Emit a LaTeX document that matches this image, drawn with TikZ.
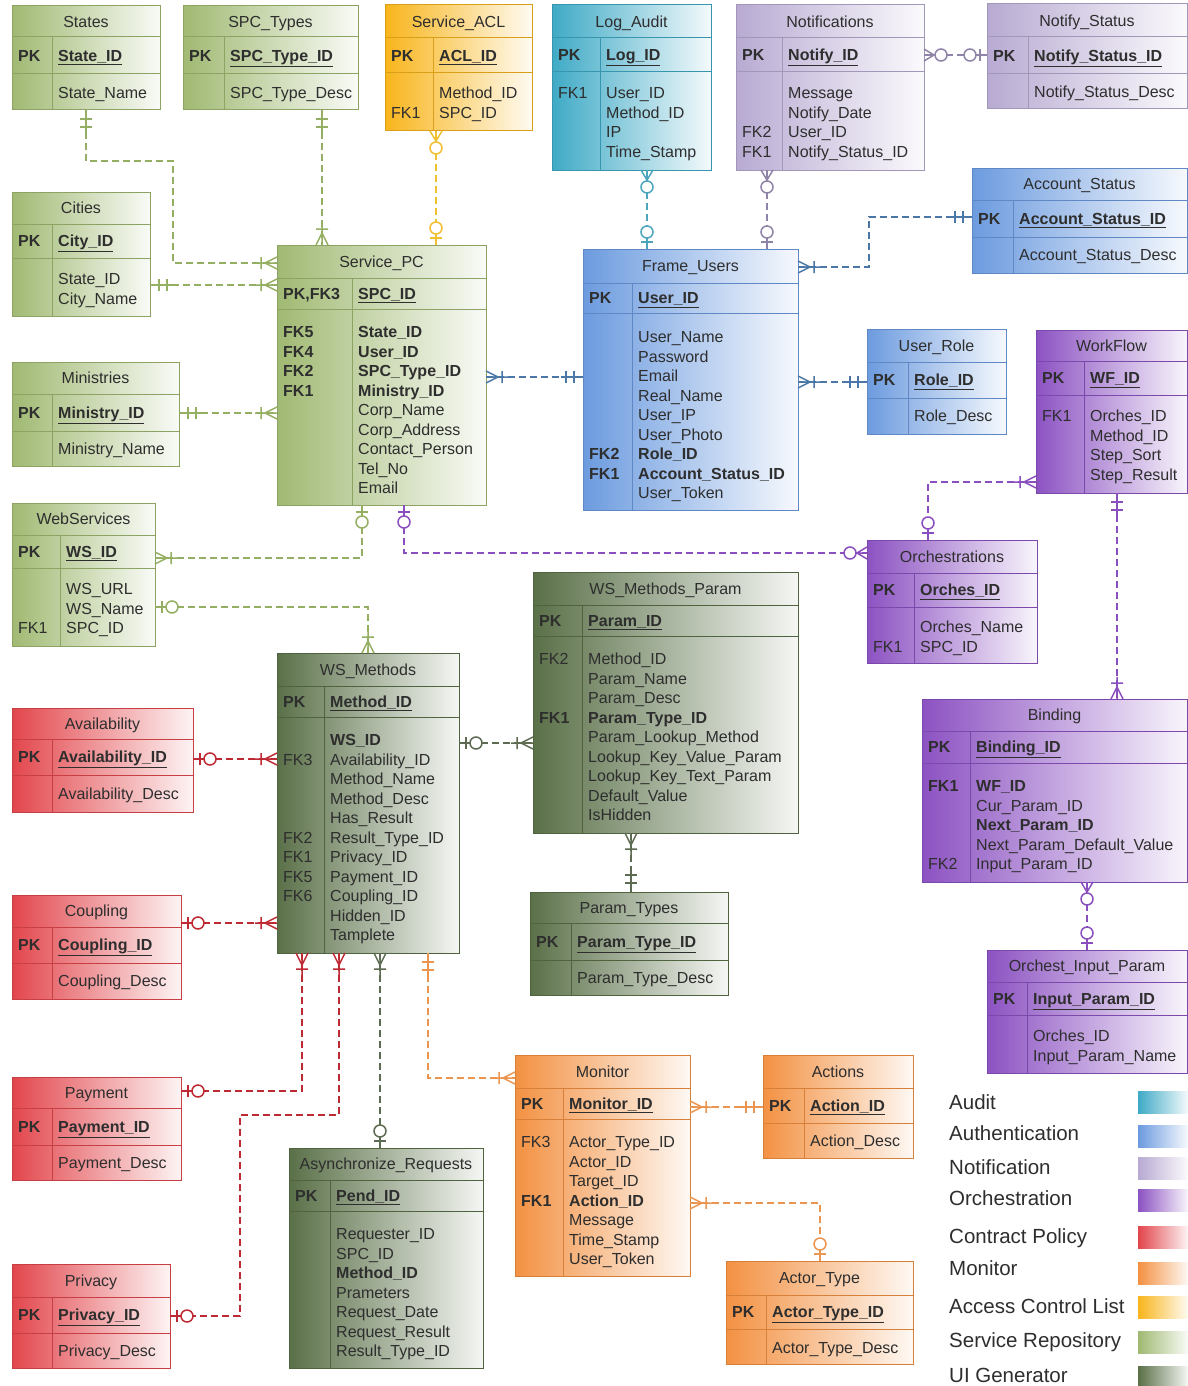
\documentclass[tikz,border=0pt]{standalone}
\usepackage{fontspec}
\setmainfont{Liberation Sans}
\usetikzlibrary{decorations.markings}

\definecolor{cSvc}{HTML}{A0B972}
\definecolor{cUI}{HTML}{5A7048}
\definecolor{cAuth}{HTML}{6C9BDF}
\definecolor{cAudit}{HTML}{3FAAC6}
\definecolor{cNotif}{HTML}{B8AAD2}
\definecolor{cOrch}{HTML}{8C52C2}
\definecolor{cCP}{HTML}{E2464C}
\definecolor{cMon}{HTML}{F39142}
\definecolor{cACL}{HTML}{F8B51C}
\definecolor{lSvc}{HTML}{94AF62}
\definecolor{lUI}{HTML}{5C6B52}
\definecolor{lAuth}{HTML}{4A77A6}
\definecolor{lAudit}{HTML}{4BA5BD}
\definecolor{lNotif}{HTML}{8F84A8}
\definecolor{lOrch}{HTML}{8A4FBF}
\definecolor{lCP}{HTML}{BE2A33}
\definecolor{lMon}{HTML}{EB9650}
\definecolor{lACL}{HTML}{EFC030}
\definecolor{txt}{HTML}{2E2E2E}

\newcommand\fld{\fontsize{16}{19.5}\selectfont}
\newcommand\lgd{\fontsize{20.5}{24}\selectfont}

% ER end markers (entity at origin, path runs toward -x)
\newcommand\mkone{\draw[solid] (0,0) -- (-22,0) (-9,-6) -- (-9,6) (-17,-6) -- (-17,6);}
\newcommand\mkzo{\draw[solid] (0,0) -- (-11,0) (-7,-6) -- (-7,6); \draw[solid,fill=white] (-17,0) circle[radius=6pt];}
\newcommand\mkmany{\draw[solid] (0,0) -- (-22,0) (0,-6) -- (-12,0) -- (0,6) (-16,-6) -- (-16,6);}
\newcommand\mkzm{\draw[solid] (0,0) -- (-11,0) (0,-6) -- (-10,0) -- (0,6); \draw[solid,fill=white] (-17,0) circle[radius=6pt];}

\tikzset{
  ebox/.style={draw=#1!88!black, line width=1pt, left color=#1, right color=#1!6,
    inner sep=0pt, outer sep=0pt, anchor=north west},
  ttl/.style={font=\fld, text=txt, inner sep=0pt, anchor=base},
  pkk/.style={font=\fld\bfseries, text=txt, inner sep=0pt, anchor=base west},
  fld/.style={font=\fld, text=txt, inner sep=0pt, anchor=north west, align=left},
  lgt/.style={font=\lgd, text=txt, inner sep=0pt, anchor=base west},
  lgsw/.style={anchor=north west, minimum width=50pt, minimum height=22pt, inner sep=0pt,
    left color=#1, right color=#1!5},
  conn/.style={line width=1.5pt, dash pattern=on 7pt off 4pt, postaction={decorate}},
  st/.style={decoration={markings, mark=at position 0 with {\begin{scope}[xscale=-1]\csname mk#1\endcsname\end{scope}}}},
  en/.style={decoration={markings, mark=at position 1 with {\csname mk#1\endcsname}}},
}

% #1 name #2 colour #3 x1 #4 y1 #5 x2 #6 y2 #7 title bottom #8 pk bottom #9 divider x
\newcommand\ent[9]{%
  \node[ebox=#2, minimum width={(#5-#3)*1pt}, minimum height={(#6-#4)*1pt}] (#1) at (#3,#4) {};
  \draw[line width=1pt, draw=#2!88!black] (#3,#7) -- (#5,#7) (#3,#8) -- (#5,#8) (#9,#7) -- (#9,#6);
  \coordinate (#1-t) at ({(#3+#5)/2},{(#4+#7)/2+5.7});
  \coordinate (#1-pk) at ({#3+6},{(#7+#8)/2+5.7});
  \coordinate (#1-pn) at ({#9+6},{(#7+#8)/2+5.7});
}
\newcommand\etext[4]{%
  \node[ttl] (#1-title) at (#1-t) {#2};
  \node[pkk] (#1-pkey) at (#1-pk) {#3};
  \node[pkk] (#1-pname) at (#1-pn) {\underline{#4}};
}
\newcommand\ebody[3]{%
  \coordinate (#1-by) at (0,{#2-8});
  \node[fld] (#1-attrs) at (#1-pn |- #1-by) {\strut #3};
}
\newcommand\ekeys[3]{%
  \coordinate (#1-ky) at (0,{#2-8});
  \node[fld] (#1-keys) at (#1-pk |- #1-ky) {\strut #3};
}
\newcommand\lgitem[5]{%
  \node[lgt] (#1) at (949,{#4+7.3}) {#2};
  \node[lgsw=#3] (#1-sw) at (1138,{#5-11}) {};
}

\begin{document}
\begin{tikzpicture}[x=1pt,y=-1pt]
\fill[white] (0,0) rectangle (1188,1386);
\useasboundingbox (0,0) rectangle (1188,1386);

% ---------- entities ----------
\ent{states}{cSvc}{12}{6}{160}{110}{37}{74}{52}
\etext{states}{States}{PK}{State\_ID}
\ebody{states}{93}{State\_Name}

\ent{spct}{cSvc}{183}{6}{358}{110}{37}{74}{224}
\etext{spct}{SPC\_Types}{PK}{SPC\_Type\_ID}
\ebody{spct}{93}{SPC\_Type\_Desc}

\ent{acl}{cACL}{385}{5}{532}{131}{38}{73}{433}
\etext{acl}{Service\_ACL}{PK}{ACL\_ID}
\ekeys{acl}{93}{\\FK1}
\ebody{acl}{93}{Method\_ID\\SPC\_ID}

\ent{log}{cAudit}{552}{5}{711}{170}{38}{72}{600}
\etext{log}{Log\_Audit}{PK}{Log\_ID}
\ekeys{log}{93}{FK1}
\ebody{log}{93}{User\_ID\\Method\_ID\\IP\\Time\_Stamp}

\ent{notif}{cNotif}{736}{5}{924}{170}{38}{72}{782}
\etext{notif}{Notifications}{PK}{Notify\_ID}
\ekeys{notif}{93}{\\ \\FK2\\FK1}
\ebody{notif}{93}{Message\\Notify\_Date\\User\_ID\\Notify\_Status\_ID}

\ent{nstat}{cNotif}{987}{4}{1187}{109}{37}{74}{1028}
\etext{nstat}{Notify\_Status}{PK}{Notify\_Status\_ID}
\ebody{nstat}{92}{Notify\_Status\_Desc}

\ent{acc}{cAuth}{972}{168}{1187}{273}{200}{237}{1013}
\etext{acc}{Account\_Status}{PK}{Account\_Status\_ID}
\ebody{acc}{255}{Account\_Status\_Desc}

\ent{cities}{cSvc}{12}{192}{150}{316}{224}{258}{52}
\etext{cities}{Cities}{PK}{City\_ID}
\ebody{cities}{279}{State\_ID\\City\_Name}

\ent{spc}{cSvc}{277}{245}{486}{505}{278}{309}{352}
\etext{spc}{Service\_PC}{PK,FK3}{SPC\_ID}
\ekeys{spc}{332}{\textbf{FK5}\\\textbf{FK4}\\\textbf{FK2}\\\textbf{FK1}}
\ebody{spc}{332}{\textbf{State\_ID}\\\textbf{User\_ID}\\\textbf{SPC\_Type\_ID}\\\textbf{Ministry\_ID}\\Corp\_Name\\Corp\_Address\\Contact\_Person\\Tel\_No\\Email}

\ent{fu}{cAuth}{583}{249}{798}{510}{283}{313}{632}
\etext{fu}{Frame\_Users}{PK}{User\_ID}
\ekeys{fu}{337}{\\ \\ \\ \\ \\ \\\textbf{FK2}\\\textbf{FK1}}
\ebody{fu}{337}{User\_Name\\Password\\Email\\Real\_Name\\User\_IP\\User\_Photo\\\textbf{Role\_ID}\\\textbf{Account\_Status\_ID}\\User\_Token}

\ent{min}{cSvc}{12}{362}{179}{466}{394}{431}{52}
\etext{min}{Ministries}{PK}{Ministry\_ID}
\ebody{min}{449}{Ministry\_Name}

\ent{ws}{cSvc}{12}{503}{155}{646}{535}{568}{60}
\etext{ws}{WebServices}{PK}{WS\_ID}
\ekeys{ws}{589}{\\ \\FK1}
\ebody{ws}{589}{WS\_URL\\WS\_Name\\SPC\_ID}

\ent{role}{cAuth}{867}{329}{1006}{434}{362}{398}{908}
\etext{role}{User\_Role}{PK}{Role\_ID}
\ebody{role}{416}{Role\_Desc}

\ent{wf}{cOrch}{1036}{330}{1187}{493}{361}{395}{1084}
\etext{wf}{WorkFlow}{PK}{WF\_ID}
\ekeys{wf}{416}{FK1}
\ebody{wf}{416}{Orches\_ID\\Method\_ID\\Step\_Sort\\Step\_Result}

\ent{orch}{cOrch}{867}{540}{1037}{663}{573}{607}{914}
\etext{orch}{Orchestrations}{PK}{Orches\_ID}
\ekeys{orch}{627}{\\FK1}
\ebody{orch}{627}{Orches\_Name\\SPC\_ID}

\ent{wsm}{cUI}{277}{653}{459}{953}{686}{717}{324}
\etext{wsm}{WS\_Methods}{PK}{Method\_ID}
\ekeys{wsm}{740}{\\FK3\\ \\ \\ \\FK2\\FK1\\FK5\\FK6}
\ebody{wsm}{740}{\textbf{WS\_ID}\\Availability\_ID\\Method\_Name\\Method\_Desc\\Has\_Result\\Result\_Type\_ID\\Privacy\_ID\\Payment\_ID\\Coupling\_ID\\Hidden\_ID\\Tamplete}

\ent{avail}{cCP}{12}{708}{193}{812}{739}{775}{52}
\etext{avail}{Availability}{PK}{Availability\_ID}
\ebody{avail}{794}{Availability\_Desc}

\ent{coup}{cCP}{12}{895}{181}{999}{927}{963}{52}
\etext{coup}{Coupling}{PK}{Coupling\_ID}
\ebody{coup}{981}{Coupling\_Desc}

\ent{wsmp}{cUI}{533}{572}{798}{833}{605}{636}{582}
\etext{wsmp}{WS\_Methods\_Param}{PK}{Param\_ID}
\ekeys{wsmp}{659}{FK2\\ \\ \\\textbf{FK1}}
\ebody{wsmp}{659}{Method\_ID\\Param\_Name\\Param\_Desc\\\textbf{Param\_Type\_ID}\\Param\_Lookup\_Method\\Lookup\_Key\_Value\_Param\\Lookup\_Key\_Text\_Param\\Default\_Value\\IsHidden}

\ent{pt}{cUI}{530}{892}{728}{995}{923}{960}{571}
\etext{pt}{Param\_Types}{PK}{Param\_Type\_ID}
\ebody{pt}{978}{Param\_Type\_Desc}

\ent{bind}{cOrch}{922}{699}{1187}{882}{731}{763}{970}
\etext{bind}{Binding}{PK}{Binding\_ID}
\ekeys{bind}{786}{\textbf{FK1}\\ \\ \\ \\FK2}
\ebody{bind}{786}{\textbf{WF\_ID}\\Cur\_Param\_ID\\\textbf{Next\_Param\_ID}\\Next\_Param\_Default\_Value\\Input\_Param\_ID}

\ent{oip}{cOrch}{987}{950}{1187}{1073}{982}{1015}{1027}
\etext{oip}{Orchest\_Input\_Param}{PK}{Input\_Param\_ID}
\ebody{oip}{1036}{Orches\_ID\\Input\_Param\_Name}

\ent{pay}{cCP}{12}{1077}{181}{1180}{1108}{1145}{52}
\etext{pay}{Payment}{PK}{Payment\_ID}
\ebody{pay}{1163}{Payment\_Desc}

\ent{priv}{cCP}{12}{1264}{170}{1368}{1297}{1333}{52}
\etext{priv}{Privacy}{PK}{Privacy\_ID}
\ebody{priv}{1351}{Privacy\_Desc}

\ent{async}{cUI}{289}{1148}{483}{1368}{1180}{1211}{330}
\etext{async}{Asynchronize\_Requests}{PK}{Pend\_ID}
\ebody{async}{1234}{Requester\_ID\\SPC\_ID\\\textbf{Method\_ID}\\Prameters\\Request\_Date\\Request\_Result\\Result\_Type\_ID}

\ent{mon}{cMon}{515}{1055}{690}{1276}{1088}{1119}{563}
\etext{mon}{Monitor}{PK}{Monitor\_ID}
\ekeys{mon}{1142}{FK3\\ \\ \\\textbf{FK1}}
\ebody{mon}{1142}{Actor\_Type\_ID\\Actor\_ID\\Target\_ID\\\textbf{Action\_ID}\\Message\\Time\_Stamp\\User\_Token}

\ent{act}{cMon}{763}{1055}{913}{1158}{1088}{1123}{804}
\etext{act}{Actions}{PK}{Action\_ID}
\ebody{act}{1141}{Action\_Desc}

\ent{actor}{cMon}{726}{1261}{913}{1364}{1295}{1329}{766}
\etext{actor}{Actor\_Type}{PK}{Actor\_Type\_ID}
\ebody{actor}{1348}{Actor\_Type\_Desc}

% ---------- connectors ----------
\draw[conn, lSvc, st=one, en=many] (states.south) |- (173,161) |- ([yshift=-18pt]spc.north west);
\draw[conn, lSvc, st=one, en=many] ([yshift=-93pt]cities.north east) -- ([yshift=-40pt]spc.north west);
\draw[conn, lSvc, st=one, en=many] ([xshift=139pt]spct.south west) -- ([xshift=45pt]spc.north west);
\draw[conn, lACL, st=zm, en=zo] ([xshift=51pt]acl.south west) -- ([xshift=159pt]spc.north west);
\draw[conn, lSvc, st=one, en=many] ([yshift=-51pt]min.north east) -- ([yshift=-168pt]spc.north west);
\draw[conn, lSvc, st=zo, en=many] ([xshift=85pt]spc.south west) |- ([yshift=-55pt]ws.north east);
\draw[conn, lOrch, st=zo, en=zm] ([xshift=127pt]spc.south west) |- ([yshift=-13pt]orch.north west);
\draw[conn, lSvc, st=zo, en=many] ([yshift=-104pt]ws.north east) -| ([xshift=91pt]wsm.north west);
\draw[conn, lAuth, st=many, en=one] ([yshift=-132pt]spc.north east) -- ([yshift=-128pt]fu.north west);
\draw[conn, lAudit, st=zm, en=zo] ([xshift=95pt]log.south west) -- ([xshift=64pt]fu.north west);
\draw[conn, lNotif, st=zm, en=zo] ([xshift=31pt]notif.south west) -- ([xshift=184pt]fu.north west);
\draw[conn, lNotif, st=zm, en=zo] ([yshift=-50pt]notif.north east) -- ([yshift=-51pt]nstat.north west);
\draw[conn, lAuth, st=many, en=one] ([yshift=-18pt]fu.north east) -| (869,217) -- ([yshift=-49pt]acc.north west);
\draw[conn, lAuth, st=many, en=one] ([yshift=-133pt]fu.north east) -- ([yshift=-53pt]role.north west);
\draw[conn, lOrch, st=many, en=zo] ([yshift=-152pt]wf.north west) -| ([xshift=61pt]orch.north west);
\draw[conn, lOrch, st=one, en=many] ([xshift=81pt]wf.south west) -- ([xshift=195pt]bind.north west);
\draw[conn, lOrch, st=zm, en=zo] ([xshift=165pt]bind.south west) -- ([xshift=100pt]oip.north west);
\draw[conn, lCP, st=zo, en=many] ([yshift=-51pt]avail.north east) -- ([yshift=-106pt]wsm.north west);
\draw[conn, lCP, st=zo, en=many] ([yshift=-28pt]coup.north east) -- ([yshift=-270pt]wsm.north west);
\draw[conn, lUI, st=zo, en=many] ([yshift=-90pt]wsm.north east) -- ([yshift=-171pt]wsmp.north west);
\draw[conn, lUI, st=many, en=one] ([xshift=98pt]wsmp.south west) -- ([xshift=101pt]pt.north west);
\draw[conn, lCP, st=many, en=zo] ([xshift=25pt]wsm.south west) |- ([yshift=-14pt]pay.north east);
\draw[conn, lCP, st=many, en=zo] ([xshift=62pt]wsm.south west) |- (240,1115) |- ([yshift=-52pt]priv.north east);
\draw[conn, lUI, st=many, en=zo] ([xshift=103pt]wsm.south west) -- ([xshift=91pt]async.north west);
\draw[conn, lMon, st=one, en=many] ([xshift=151pt]wsm.south west) |- ([yshift=-23pt]mon.north west);
\draw[conn, lMon, st=many, en=one] ([yshift=-52pt]mon.north east) -- ([yshift=-52pt]act.north west);
\draw[conn, lMon, st=many, en=zo] ([yshift=-148pt]mon.north east) -| ([xshift=94pt]actor.north west);

% ---------- legend ----------
\lgitem{lg-audit}{Audit}{cAudit}{1102}{1102}
\lgitem{lg-auth}{Authentication}{cAuth}{1133}{1136}
\lgitem{lg-notif}{Notification}{cNotif}{1167}{1168}
\lgitem{lg-orch}{Orchestration}{cOrch}{1198}{1200}
\lgitem{lg-cp}{Contract Policy}{cCP}{1236}{1237}
\lgitem{lg-mon}{Monitor}{cMon}{1268}{1273}
\lgitem{lg-acl}{Access Control List}{cACL}{1306}{1307}
\lgitem{lg-svc}{Service Repository}{cSvc}{1340}{1342}
\lgitem{lg-ui}{UI Generator}{cUI}{1375}{1377}
\end{tikzpicture}
\end{document}
